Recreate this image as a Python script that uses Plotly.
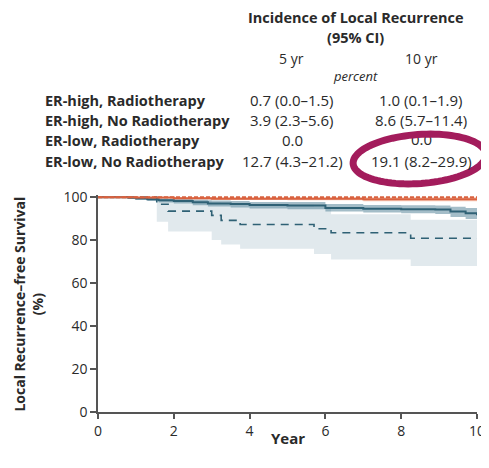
import math
import plotly.graph_objects as go

# ---------------- data ----------------
# ER-low, No Radiotherapy (teal dashed) + 95% CI
yr_lo_nort = [0, 1.55, 1.85, 3.0, 3.25, 3.75, 5.7, 6.15, 8.25, 10]
sv_lo_nort = [100, 96.7, 93.5, 91.5, 89.2, 87.3, 85.3, 83.4, 80.9, 80.9]
ci_lo_nort_low = [100, 88.5, 84.0, 80.0, 78.0, 76.0, 73.5, 71.0, 68.0, 68.0]
ci_lo_nort_up = [100, 100, 99.0, 97.5, 97.0, 96.5, 95.5, 92.0, 89.5, 89.5]

# ER-high, No Radiotherapy (teal solid) + 95% CI
yr_hi_nort = [0, 0.5, 0.8, 1.0, 1.3, 1.6, 2.0, 2.5, 2.9, 3.5, 4.0, 5.0, 6.0, 7.0, 8.0, 8.9, 9.3, 9.7, 10]
sv_hi_nort = [100, 100, 99.7, 99.4, 99.0, 98.5, 98.2, 97.6, 97.1, 96.8, 96.3, 96.1, 95.0, 94.6, 94.4, 94.3, 93.3, 92.5, 91.6]
ci_hi_nort_low = [100, 100, 99.3, 98.8, 98.2, 97.5, 97.0, 96.2, 95.6, 95.2, 94.7, 94.4, 93.3, 92.8, 92.5, 92.2, 90.8, 89.8, 88.6]
ci_hi_nort_up = [100, 100, 100, 99.9, 99.7, 99.4, 99.2, 98.8, 98.4, 98.2, 97.8, 97.7, 96.8, 96.4, 96.2, 96.1, 95.5, 95.0, 94.4]

# ER-high, Radiotherapy (orange solid) + 95% CI
yr_hi_rt = [0, 1.0, 2.0, 3.0, 5.0, 7.0, 10]
sv_hi_rt = [100, 99.8, 99.5, 99.3, 99.3, 99.0, 99.0]
ci_hi_rt_low = [100, 99.5, 99.0, 98.7, 98.5, 98.1, 98.1]
ci_hi_rt_up = [100, 100, 100, 99.9, 99.9, 99.9, 99.9]

# ER-low, Radiotherapy (orange dashed)
yr_lo_rt = [0, 10]
sv_lo_rt = [100, 100]

# table
table_rows = ["ER-high, Radiotherapy", "ER-high, No Radiotherapy",
              "ER-low, Radiotherapy", "ER-low, No Radiotherapy"]
inc_5yr = ["0.7 (0.0\u20131.5)", "3.9 (2.3\u20135.6)", "0.0", "12.7 (4.3\u201321.2)"]
inc_10yr = ["1.0 (0.1\u20131.9)", "8.6 (5.7\u201311.4)", "0.0", "19.1 (8.2\u201329.9)"]

x_ticks = [0, 2, 4, 6, 8, 10]
y_ticks = [0, 20, 40, 60, 80, 100]

# ---------------- style ----------------
TEAL = "#2f6175"
ORANGE = "#d9623f"
FONT = "Open Sans"
TXT = "#2a2a2a"

OFF = 8                      # default body margin of the html page
W, H = 489, 468
L, T = 98 - OFF, 195 - OFF   # plot box: window x 98..480, y 195..412
R, B = W - (480 - OFF), H - (412 - OFF)
PW, PH = W - L - R, H - T - B
YMAX = 101


def fx(x):   # window pixel -> paper (plot-area relative)
    return (x - OFF - L) / PW


def fy(y):
    return (H - B - (y - OFF)) / PH


fig = go.Figure()


def band(xs, lo, up, color):
    fig.add_trace(go.Scatter(x=xs, y=up, mode="lines", line=dict(width=0, shape="hv"),
                             hoverinfo="skip", showlegend=False))
    fig.add_trace(go.Scatter(x=xs, y=lo, mode="lines", line=dict(width=0, shape="hv"),
                             fill="tonexty", fillcolor=color, hoverinfo="skip", showlegend=False))


band(yr_lo_nort, ci_lo_nort_low, ci_lo_nort_up, "rgba(225,233,237,1)")
band(yr_hi_nort, ci_hi_nort_low, ci_hi_nort_up, "rgba(90,135,155,0.55)")
band(yr_hi_rt, ci_hi_rt_low, ci_hi_rt_up, "rgba(238,160,130,0.6)")

fig.add_trace(go.Scatter(x=yr_lo_nort, y=sv_lo_nort, mode="lines",
                         line=dict(color=TEAL, width=1.6, dash="8px,6px", shape="hv"),
                         showlegend=False))
fig.add_trace(go.Scatter(x=yr_hi_nort, y=sv_hi_nort, mode="lines",
                         line=dict(color=TEAL, width=2, shape="hv"), showlegend=False))
fig.add_trace(go.Scatter(x=yr_hi_rt, y=sv_hi_rt, mode="lines",
                         line=dict(color=ORANGE, width=2, shape="hv"), showlegend=False))
fig.add_trace(go.Scatter(x=yr_lo_rt, y=sv_lo_rt, mode="lines",
                         line=dict(color=ORANGE, width=2, dash="4px,2px", shape="hv"),
                         showlegend=False))

ann = []
ann.append(dict(x=fx(358), y=fy(17), text="<b>Incidence of Local Recurrence</b>",
                font=dict(size=14.5)))
ann.append(dict(x=fx(358), y=fy(38), text="<b>(95% CI)</b>", font=dict(size=14.5)))
ann.append(dict(x=fx(293), y=fy(58), text="5 yr", font=dict(size=14)))
ann.append(dict(x=fx(424), y=fy(58), text="10 yr", font=dict(size=14)))
ann.append(dict(x=fx(358), y=fy(76), text="<i>percent</i>", font=dict(size=13)))
row_y = [100, 120, 140, 161]
for i, name in enumerate(table_rows):
    ann.append(dict(x=fx(43), y=fy(row_y[i]), text="<b>" + name + "</b>",
                    xanchor="left", font=dict(size=14.5)))
    ann.append(dict(x=fx(294), y=fy(row_y[i]), text=inc_5yr[i], font=dict(size=15)))
    if i != 2:
        ann.append(dict(x=fx(424), y=fy(row_y[i]), text=inc_10yr[i], font=dict(size=15)))
ann.append(dict(x=fx(289), y=fy(438), text="<b>Year</b>", font=dict(size=15)))
ann.append(dict(x=fx(27), y=fy(304), text="<b>Local Recurrence\u2013free Survival<br>(%)</b>",
                textangle=-90, font=dict(size=14)))
for a in ann:
    a.setdefault("xanchor", "center")
    a.update(xref="paper", yref="paper", yanchor="middle", showarrow=False)
    a["font"].update(family=FONT, color=TXT)

# "0.0" (10 yr, ER-low RT) as a shape label so that the ellipse shape can cover it
hidden_txt = dict(type="rect", xref="paper", yref="paper", layer="above",
                  x0=fx(404), x1=fx(444), y0=fy(150), y1=fy(130),
                  line=dict(width=0), fillcolor="rgba(0,0,0,0)",
                  label=dict(text=inc_10yr[2], textposition="middle center",
                             font=dict(family=FONT, size=15, color=TXT)))

# slightly tilted highlight ellipse
cx, cy, ra, rb, rot = 422, 159, 67, 24.5, math.radians(-4)
pts = []
for k in range(97):
    t = 2 * math.pi * k / 96
    ex = ra * math.cos(t)
    ey = rb * math.sin(t)
    X = cx + ex * math.cos(rot) - ey * math.sin(rot)
    Y = cy + ex * math.sin(rot) + ey * math.cos(rot)
    pts.append((fx(X), fy(Y)))
path = "M " + " L ".join(f"{x:.5f},{y:.5f}" for x, y in pts) + " Z"
ellipse = dict(type="path", path=path, xref="paper", yref="paper", layer="above",
               line=dict(color="#a31c5c", width=7))

fig.update_layout(
    width=W, height=H,
    margin=dict(l=L, r=R, t=T, b=B),
    paper_bgcolor="white", plot_bgcolor="white",
    annotations=ann,
    shapes=[hidden_txt, ellipse],
    xaxis=dict(range=[0, 10], tickvals=x_ticks, ticks="outside", ticklen=5, tickwidth=1.5,
               tickcolor="#555", showline=True, linecolor="#555", linewidth=1.5,
               showgrid=False, zeroline=False,
               tickfont=dict(family=FONT, size=14, color=TXT)),
    yaxis=dict(range=[0, YMAX], tickvals=y_ticks, ticks="outside", ticklen=6, tickwidth=1.5,
               tickcolor="#555", showline=True, linecolor="#555", linewidth=1.5,
               showgrid=False, zeroline=False,
               tickfont=dict(family=FONT, size=14, color=TXT)),
)

fig.write_html("out.html")
